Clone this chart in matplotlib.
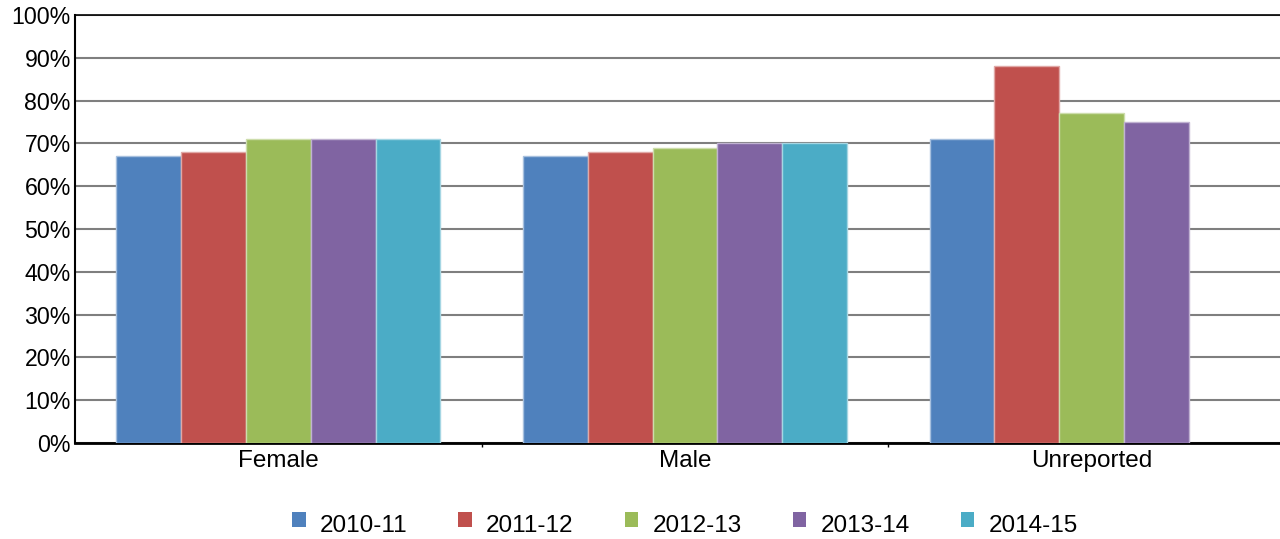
import matplotlib
matplotlib.use("Agg")
import matplotlib.pyplot as plt
from matplotlib.patches import Rectangle, Patch
from matplotlib.legend_handler import HandlerPatch
import matplotlib.colors as mcolors
import numpy as np

plt.rcParams['font.family'] = ['Liberation Sans', 'DejaVu Sans']

categories = ["Female", "Male", "Unreported"]
series = ["2010-11", "2011-12", "2012-13", "2013-14", "2014-15"]
values = {
    "2010-11": [67, 67, 71],
    "2011-12": [68, 68, 88],
    "2012-13": [71, 69, 77],
    "2013-14": [71, 70, 75],
    "2014-15": [71, 70, None],
}
colors = ["#4F81BD", "#C0504D", "#9BBB59", "#8064A2", "#4BACC6"]

FS = 17.5

fig = plt.figure(figsize=(12.8, 5.39), dpi=100)
ax = fig.add_axes([75/1280, 1-443/539, 1-75/1280, (443-15)/539])

bw = 0.1595
x = np.arange(len(categories))
for i, s in enumerate(series):
    c = colors[i]
    edge = tuple(0.5*np.array(mcolors.to_rgb(c)) + 0.5)
    for j, v in enumerate(values[s]):
        if v is None:
            continue
        ax.bar(x[j] + (i-2)*bw, v, width=bw, color=c, edgecolor=edge, linewidth=1, zorder=3)

ax.set_xlim(-0.5, 2.5 - 15/406.5)
ax.set_ylim(0, 100)
ax.set_yticks(range(0, 101, 10))
ax.set_yticklabels([f"{t}%" for t in range(0, 101, 10)], fontsize=FS - 0.8)
ax.tick_params(axis='y', length=0, pad=3)
ax.set_xticks(x)
ax.set_xticklabels(categories, fontsize=FS)
ax.tick_params(axis='x', length=0, pad=5)
ax.set_xticks([0.5, 1.5], minor=True)
ax.tick_params(axis='x', which='minor', length=3, width=1, color='black', direction='out')
ax.grid(axis='y', color='#7f7f7f', linewidth=1.5, zorder=0)
ax.set_axisbelow(True)
ax.spines['right'].set_visible(False)
ax.spines['top'].set_linewidth(1.2)
ax.spines['left'].set_linewidth(1.5)
ax.spines['bottom'].set_linewidth(2)


def square(legend, orig_handle, xdescent, ydescent, width, height, fontsize):
    return Rectangle((-xdescent, -ydescent + 3.0), width, height)


handles = [Patch(facecolor=c, edgecolor='none') for c in colors]
fig.legend(handles, series, loc='center', bbox_to_anchor=(0.535, 0.024), ncol=5,
           frameon=False, fontsize=FS, handletextpad=0.57, columnspacing=2.1,
           handlelength=0.57, handleheight=0.57,
           handler_map={Patch: HandlerPatch(patch_func=square)})

fig.savefig("out.png", dpi=100)
